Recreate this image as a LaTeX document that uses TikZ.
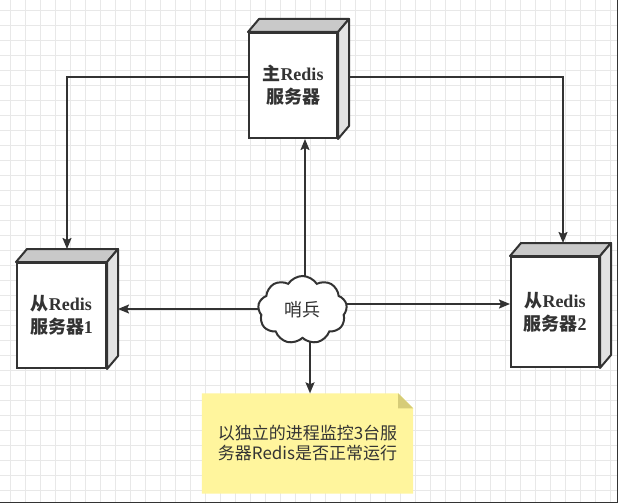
\documentclass[tikz,border=0pt]{standalone}
\usepackage{fontspec}
\setmainfont{Liberation Serif}
\newfontfamily\cjk{Noto Sans CJK SC}
\usetikzlibrary{shapes.symbols,arrows.meta}
\definecolor{ink}{HTML}{333333}
\definecolor{gridc}{HTML}{E8E8E8}
\definecolor{topface}{HTML}{C9C9C9}
\definecolor{sideface}{HTML}{E3E3E3}
\definecolor{notefill}{HTML}{FFF59D}
\definecolor{notefold}{HTML}{D6CC78}
\pgfdeclarelayer{gridlayer}
\pgfdeclarelayer{bglayer}
\pgfsetlayers{gridlayer,bglayer,main}
\tikzset{
  front/.style={draw=ink, line width=2pt, fill=white, inner sep=0pt, align=center,
    font=\bfseries\fontsize{18}{23}\selectfont, text=ink},
  face/.style={draw=ink, line width=2pt, line join=round},
  conn/.style={draw=ink, line width=1.7pt, -{Stealth[length=11pt,width=9pt,inset=2pt]}},
  sentinel/.style={cloud, cloud puffs=9, cloud puff arc=115, aspect=1.3, draw=ink,
    line width=2pt, fill=white, inner sep=0pt, minimum width=89pt, minimum height=68pt,
    font=\cjk\fontsize{18}{20}\selectfont, text=ink},
  notebox/.style={inner sep=0pt, minimum width=211pt, minimum height=100pt, align=center,
    font=\cjk\fontsize{17}{20}\selectfont, text=ink},
}
\newcommand{\cubefaces}[1]{%
  \filldraw[face, fill=topface] (#1.north west) -- ([shift={(11,-13)}]#1.north west)
    -- ([shift={(11,-13)}]#1.north east) -- (#1.north east) -- cycle;
  \filldraw[face, fill=sideface] (#1.north east) -- ([shift={(11,-13)}]#1.north east)
    -- ([shift={(11,-13)}]#1.south east) -- (#1.south east) -- cycle;
}
\begin{document}
\begin{tikzpicture}[x=1pt,y=-1pt]
\useasboundingbox (0,0) rectangle (618,503);
% grid
\begin{pgfonlayer}{gridlayer}
  \fill[white] (0,0) rectangle (618,503);
  \foreach \i in {0,...,40} \draw[gridc, line width=0.9pt] (10+15*\i,0) -- (10+15*\i,503);
  \foreach \i in {0,...,32} \draw[gridc, line width=0.9pt] (0,10+15*\i) -- (618,10+15*\i);
  \draw[ink, line width=1.2pt] (617.4,0) -- (617.4,502.4) -- (0,502.4);
\end{pgfonlayer}

% servers
\node[front, minimum width=88pt, minimum height=105pt] (T) at (293,85.5)
  {{\cjk 主}Redis\\{\cjk 服务器}};
\cubefaces{T}
\node[front, minimum width=89pt, minimum height=105pt] (L) at (61.5,315.5)
  {{\cjk 从}Redis\\{\cjk 服务器}1};
\cubefaces{L}
\node[front, minimum width=88pt, minimum height=110pt] (R) at (555,312)
  {{\cjk 从}Redis\\{\cjk 服务器}2};
\cubefaces{R}

% sentinel
\node[sentinel] (C) at (302.5,310) {哨兵};

% note
\node[notebox] (N) at (307.5,443.5) {以独立的进程监控3台服\\务器Redis是否正常运行};
\begin{pgfonlayer}{bglayer}
  \fill[notefill] (N.north west) -- ([xshift=-15pt]N.north east)
    -- ([yshift=-15pt]N.north east) -- (N.south east) -- (N.south west) -- cycle;
  \fill[notefold] ([xshift=-15pt]N.north east) -- ([shift={(-15,15)}]N.north east)
    -- ([yshift=-15pt]N.north east) -- cycle;
\end{pgfonlayer}

% anchors for connector ends
\coordinate (Ltop) at ([shift={(5.5,-13)}]L.north);
\coordinate (Rtop) at ([shift={(8,-13)}]R.north);
\coordinate (Lside) at ([xshift=11pt]L.east);
\coordinate (Tl) at ([shift={(0,-8.5)}]T.west);
\coordinate (Tr) at ([shift={(11,-8.5)}]T.east);
\coordinate (Cu) at ([xshift=2.5pt]C.center);
\coordinate (Cl) at ([yshift=1pt]C.center);
\coordinate (Cr) at ([yshift=6pt]C.center);
\coordinate (Cd) at ([xshift=7.5pt]C.center);

\begin{pgfonlayer}{bglayer}
  \draw[conn] (Tl) -| (Ltop);
  \draw[conn] (Tr) -| (Rtop);
  \draw[conn] (Cu) -- (Cu |- T.south);
  \draw[conn] (Cl) -- (Cl -| Lside);
  \draw[conn] (Cr) -- (Cr -| R.west);
  \draw[conn] (Cd) -- (Cd |- N.north);
\end{pgfonlayer}
\end{tikzpicture}
\end{document}
